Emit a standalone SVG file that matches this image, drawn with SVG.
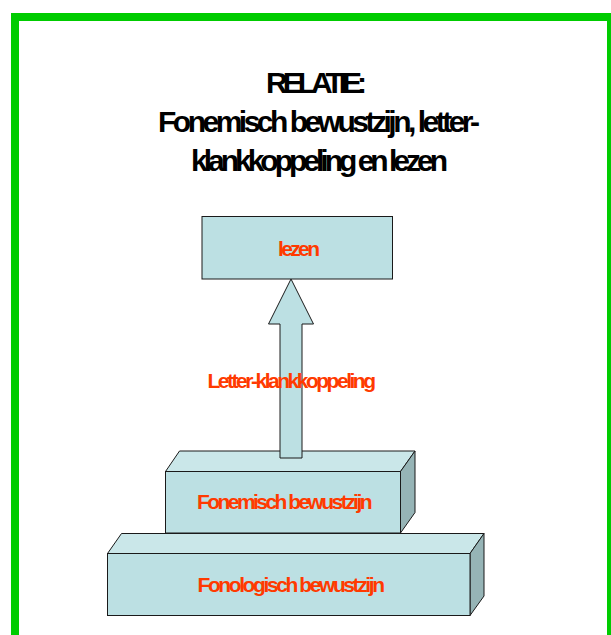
<svg xmlns="http://www.w3.org/2000/svg" width="611" height="635" viewBox="0 0 611 635">
<style>
.title{font-family:"Liberation Sans",Arial,sans-serif;font-weight:bold;font-size:30px;fill:#000}
.lbl{font-family:"Liberation Sans",Arial,sans-serif;font-weight:bold;font-size:21px;fill:#FF3A00}
.front{fill:#BCE0E3;stroke:#1a1a1a;stroke-width:1}
.top{fill:#CAE7E9;stroke:#1a1a1a;stroke-width:1}
.side{fill:#96B4B6;stroke:#1a1a1a;stroke-width:1}
</style>
<rect x="0" y="0" width="611" height="635" fill="#fff"/>
<rect x="15" y="17" width="596" height="640" fill="none" stroke="#00CC00" stroke-width="8"/>
<g id="title">
<text class="title" x="266" y="93" textLength="101" lengthAdjust="spacing">RELATIE:</text>
<text class="title" x="158" y="131.5" textLength="322" lengthAdjust="spacing">Fonemisch bewustzijn, letter-</text>
<text class="title" x="191" y="170.5" textLength="257" lengthAdjust="spacing">klankkoppeling en lezen</text>
</g>
<g id="fonologisch">
<polygon class="top" points="107.5,553.5 121.5,533.5 484,533.5 470,553.5"/>
<polygon class="side" points="470,553.5 484,533.5 484,596 470,615.5"/>
<rect class="front" x="107.5" y="553.5" width="362.5" height="62"/>
<text class="lbl" x="197.5" y="592" textLength="187.5" lengthAdjust="spacing">Fonologisch bewustzijn</text>
</g>
<g id="fonemisch">
<polygon class="top" points="165.5,471.5 179.5,451 415,451 400.5,471.5"/>
<polygon class="side" points="400.5,471.5 415,451 415,512.5 400.5,533"/>
<rect class="front" x="165.5" y="471.5" width="235" height="61.5"/>
<text class="lbl" x="197" y="509" textLength="175.5" lengthAdjust="spacing">Fonemisch bewustzijn</text>
</g>
<g id="lezen">
<rect class="front" x="202" y="216.5" width="190.5" height="62.5"/>
<text class="lbl" x="278" y="255.5" textLength="42" lengthAdjust="spacing">lezen</text>
</g>
<g id="connectors">
<polygon class="front" points="291,279 313.5,324 302,324 302,458 280,458 280,324 268.5,324"/>
</g>
<g id="arrow-label">
<text class="lbl" x="207.5" y="387.5" textLength="168.5" lengthAdjust="spacing">Letter-klankkoppeling</text>
</g>
</svg>
